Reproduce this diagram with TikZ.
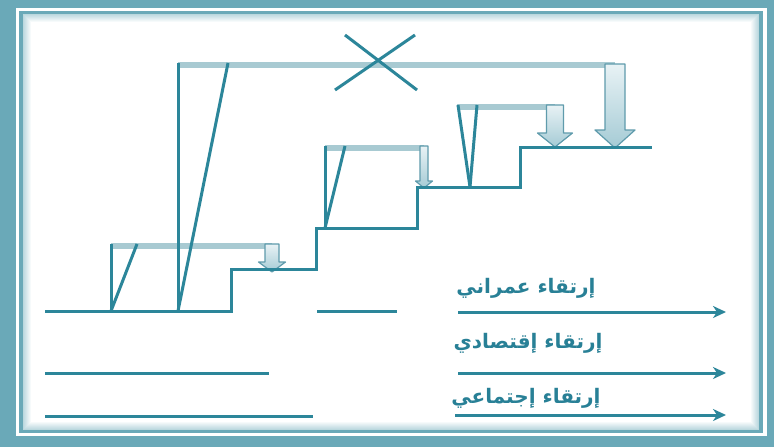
\documentclass[tikz,border=0pt]{standalone}
\usepackage{fontspec}
\newfontfamily\arabicfont[Script=Arabic]{DejaVu Sans}
\TeXXeTstate=1
\usetikzlibrary{arrows.meta}
\definecolor{band}{RGB}{106,169,184}
\definecolor{ink}{RGB}{44,134,154}
\definecolor{barc}{RGB}{168,202,210}
\definecolor{arrtop}{RGB}{232,242,245}
\definecolor{arrbot}{RGB}{165,203,213}
\definecolor{arredge}{RGB}{95,155,172}
\definecolor{txt}{RGB}{40,128,150}
\tikzset{
  stair/.style={draw=ink,line width=3pt,line join=miter},
  barline/.style={draw=barc,line width=5.5pt},
  flow/.style={draw=ink,line width=3pt,-{Stealth[length=13pt,width=12pt,inset=4pt]}},
  plain/.style={draw=ink,line width=3pt},
  label/.style={font=\arabicfont\bfseries\fontsize{20}{23}\selectfont,text=txt,inner sep=0pt},
  blk/.style={top color=arrtop,bottom color=arrbot,draw=arredge,line width=1.2pt,line join=round}
}
\newcommand\blockarr[6]{% x, ytop, ytip, shaft half, head half, head start
  \shadedraw[blk] (#1-#4,#2) -- (#1+#4,#2) -- (#1+#4,#6) -- (#1+#5,#6) -- (#1,#3)
    -- (#1-#5,#6) -- (#1-#4,#6) -- cycle;}
\begin{document}
\begin{tikzpicture}[x=1pt,y=-1pt]
\useasboundingbox (0,0) rectangle (774,447);
% frame
\fill[band] (0,0) rectangle (774,447);
\fill[white] (16,8) rectangle (767,436);
\fill[band] (19,11) rectangle (763,433);
\fill[white] (23,14) rectangle (759,430);
\foreach \i in {0,...,7}{
  \pgfmathsetmacro\op{0.45*(8-\i)/8}
  \draw[band,opacity=\op,line width=1pt] (23.5+\i,14.5+\i) rectangle (758.5-\i,429.5-\i);
}
% named points
\coordinate (g0) at (45,311);
\coordinate (s1) at (231,311);
\coordinate (s1t) at (231,269);
\coordinate (s2) at (316,269);
\coordinate (s2t) at (316,228);
\coordinate (s3) at (417,228);
\coordinate (s3t) at (417,187);
\coordinate (s4) at (520,187);
\coordinate (s4t) at (520,147);
\coordinate (s5) at (652,147);
% bars (behind)
\draw[barline] (111,246) -- (272,246);
\draw[barline] (178,65) -- (615,65);
\draw[barline] (325,148) -- (424,148);
\draw[barline] (457,107) -- (555,107);
% block arrows
\blockarr{272}{244}{272}{7}{13.5}{262}
\blockarr{424}{146}{188}{4}{8.5}{181}
\blockarr{555}{105}{147}{8.5}{17.5}{133}
\blockarr{615}{64}{148}{10}{20}{130}
% stairs
\draw[stair] (g0) -- (s1) -- (s1t) -- (s2) -- (s2t) -- (s3) -- (s3t) -- (s4) -- (s4t) -- (s5);
% small left structure
\coordinate (a0) at (111,311);
\draw[plain] (a0) -- (111,244);
\draw[plain] (a0) -- (137,244);
% tall structure
\coordinate (b0) at (178,311);
\draw[plain] (b0) -- (178,63);
\draw[plain] (b0) -- (228,63);
% structure on step 2
\coordinate (c0) at (325,228);
\draw[plain] (c0) -- (325,146);
\draw[plain] (c0) -- (345,146);
% inverted V on step 3
\coordinate (d0) at (470,187);
\draw[plain] (d0) -- (458,105);
\draw[plain] (d0) -- (477,105);
% cross
\draw[plain] (345,35) -- (417,90);
\draw[plain] (415,35) -- (335,90);
% loose ground lines
\draw[plain] (317,311) -- (397,311);
\draw[plain] (45,373) -- (269,373);
\draw[plain] (45,416) -- (313,416);
% arrows
\coordinate (e1) at (458,312);
\coordinate (f1) at (726,312);
\coordinate (e2) at (458,373);
\coordinate (f2) at (726,373);
\coordinate (e3) at (455,415);
\coordinate (f3) at (726,415);
\draw[flow] (e1) -- (f1);
\draw[flow] (e2) -- (f2);
\draw[flow] (e3) -- (f3);
% labels
\node[label] (t1) at (526,288) {\beginR إرتقاء عمراني\endR};
\node[label] (t2) at (528,343) {\beginR إرتقاء إقتصادي\endR};
\node[label] (t3) at (526,398) {\beginR إرتقاء إجتماعي\endR};
\end{tikzpicture}
\end{document}
